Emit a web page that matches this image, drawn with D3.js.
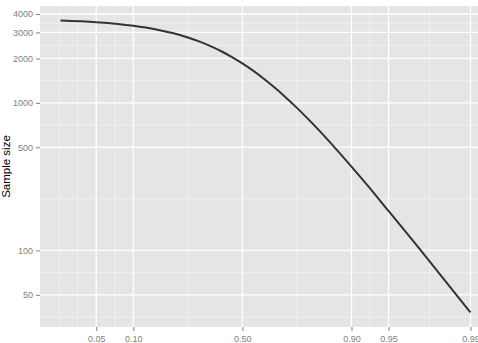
<!DOCTYPE html>
<html>
<head>
<meta charset="utf-8">
<script src="https://cdn.jsdelivr.net/npm/d3@7"></script>
<style>
  body { margin: 0; background: #fff; }
  svg { display: block; font-family: "Liberation Sans", Arial, sans-serif; }
</style>
</head>
<body>
<div id="chart"></div>
<script>
// data: probability vs required sample size
const probs = [0.025, 0.05, 0.075, 0.10, 0.15, 0.20, 0.25, 0.30, 0.35, 0.40, 0.45, 0.50,
  0.55, 0.60, 0.65, 0.70, 0.75, 0.80, 0.85, 0.90, 0.925, 0.95, 0.97, 0.98, 0.99];
const sizes = [3610, 3520, 3425, 3330, 3145, 2960, 2775, 2590, 2405, 2220, 2035, 1850,
  1665, 1480, 1295, 1110, 925, 740, 555, 370, 278, 185, 112, 75, 38];

const xTicks = [0.05, 0.10, 0.50, 0.90, 0.95, 0.99];
const yTicks = [50, 100, 500, 1000, 2000, 3000, 4000];
const yTitle = "Sample size";

// 1) dimensions (panel runs past the right edge, like the reference)
const width = 478;
const height = 343;
const panel = { left: 40, top: 6, right: 491, bottom: 327 };

const svg = d3.select("#chart")
  .append("svg")
  .attr("width", width)
  .attr("height", height);

// 2) scales - logit x, log10 y, 5% expansion like ggplot
const logit = (p) => Math.log(p / (1 - p));
const expand = ([a, b]) => [a - (b - a) * 0.05, b + (b - a) * 0.05];

const xDom = expand(d3.extent(probs, logit));
const x = d3.scaleLinear().domain(xDom).range([panel.left, panel.right]);
const px = (p) => x(logit(p));

const yLogDom = expand(d3.extent(sizes, (v) => Math.log10(v)));
const y = d3.scaleLog()
  .domain(yLogDom.map((v) => Math.pow(10, v)))
  .range([panel.bottom, panel.top]);

// minor breaks: midpoints between majors (in transformed space), plus extended ends
function minorBreaks(major) {
  const b = major.slice();
  b.unshift(b[0] - (b[1] - b[0]));
  b.push(b[b.length - 1] + (b[b.length - 1] - b[b.length - 2]));
  const out = [b[0], b[b.length - 1]];
  for (let i = 0; i < b.length - 1; i++) out.push((b[i] + b[i + 1]) / 2);
  return out;
}
const xMinor = minorBreaks(xTicks.map(logit)).filter((v) => v > xDom[0] && v < xDom[1]);
const yMinor = minorBreaks(yTicks.map(Math.log10)).filter((v) => v > yLogDom[0] && v < yLogDom[1]);

// 3) panel background + grid
svg.append("rect")
  .attr("x", panel.left)
  .attr("y", panel.top)
  .attr("width", panel.right - panel.left)
  .attr("height", panel.bottom - panel.top)
  .attr("fill", "#e5e5e5");

const grid = svg.append("g");
grid.selectAll(".xminor").data(xMinor).enter().append("line")
  .attr("x1", (d) => x(d)).attr("x2", (d) => x(d))
  .attr("y1", panel.top).attr("y2", panel.bottom)
  .attr("stroke", "#f2f2f2").attr("stroke-width", 0.8);
grid.selectAll(".yminor").data(yMinor).enter().append("line")
  .attr("x1", panel.left).attr("x2", panel.right)
  .attr("y1", (d) => y(Math.pow(10, d))).attr("y2", (d) => y(Math.pow(10, d)))
  .attr("stroke", "#f2f2f2").attr("stroke-width", 0.8);
grid.selectAll(".xmajor").data(xTicks).enter().append("line")
  .attr("x1", (d) => px(d)).attr("x2", (d) => px(d))
  .attr("y1", panel.top).attr("y2", panel.bottom)
  .attr("stroke", "#fff").attr("stroke-width", 1.3);
grid.selectAll(".ymajor").data(yTicks).enter().append("line")
  .attr("x1", panel.left).attr("x2", panel.right)
  .attr("y1", (d) => y(d)).attr("y2", (d) => y(d))
  .attr("stroke", "#fff").attr("stroke-width", 1.3);

// 4) the curve
const line = d3.line()
  .x((d, i) => px(probs[i]))
  .y((d) => y(d))
  .curve(d3.curveMonotoneX);

svg.append("path")
  .datum(sizes)
  .attr("d", line)
  .attr("fill", "none")
  .attr("stroke", "#333")
  .attr("stroke-width", 2)
  .attr("stroke-linecap", "butt");

// 5) axes
const xAxis = d3.axisBottom(d3.scaleLinear().domain(xDom).range([panel.left, panel.right]))
  .tickValues(xTicks.map(logit))
  .tickFormat((d, i) => d3.format(".2f")(xTicks[i]))
  .tickSize(4)
  .tickPadding(5);

svg.append("g")
  .attr("transform", `translate(0,${panel.bottom})`)
  .call(xAxis)
  .call((g) => g.select(".domain").remove())
  .call((g) => g.selectAll("line").attr("stroke", "#7f7f7f"))
  .call((g) => g.selectAll("text").attr("fill", "#7f7f7f").style("font-size", "9px")
    .style("font-family", "Liberation Sans, Arial, sans-serif"));

const yAxis = d3.axisLeft(y)
  .tickValues(yTicks)
  .tickFormat(d3.format("d"))
  .tickSize(4)
  .tickPadding(3);

svg.append("g")
  .attr("transform", `translate(${panel.left},0)`)
  .call(yAxis)
  .call((g) => g.select(".domain").remove())
  .call((g) => g.selectAll("line").attr("stroke", "#7f7f7f"))
  .call((g) => g.selectAll("text").attr("fill", "#7f7f7f").style("font-size", "9px")
    .style("font-family", "Liberation Sans, Arial, sans-serif"));

// 6) y axis title
svg.append("text")
  .attr("transform", `translate(10,${(panel.top + panel.bottom) / 2}) rotate(-90)`)
  .attr("text-anchor", "middle")
  .attr("fill", "#000")
  .style("font-size", "11.5px")
  .text(yTitle);
</script>
</body>
</html>
